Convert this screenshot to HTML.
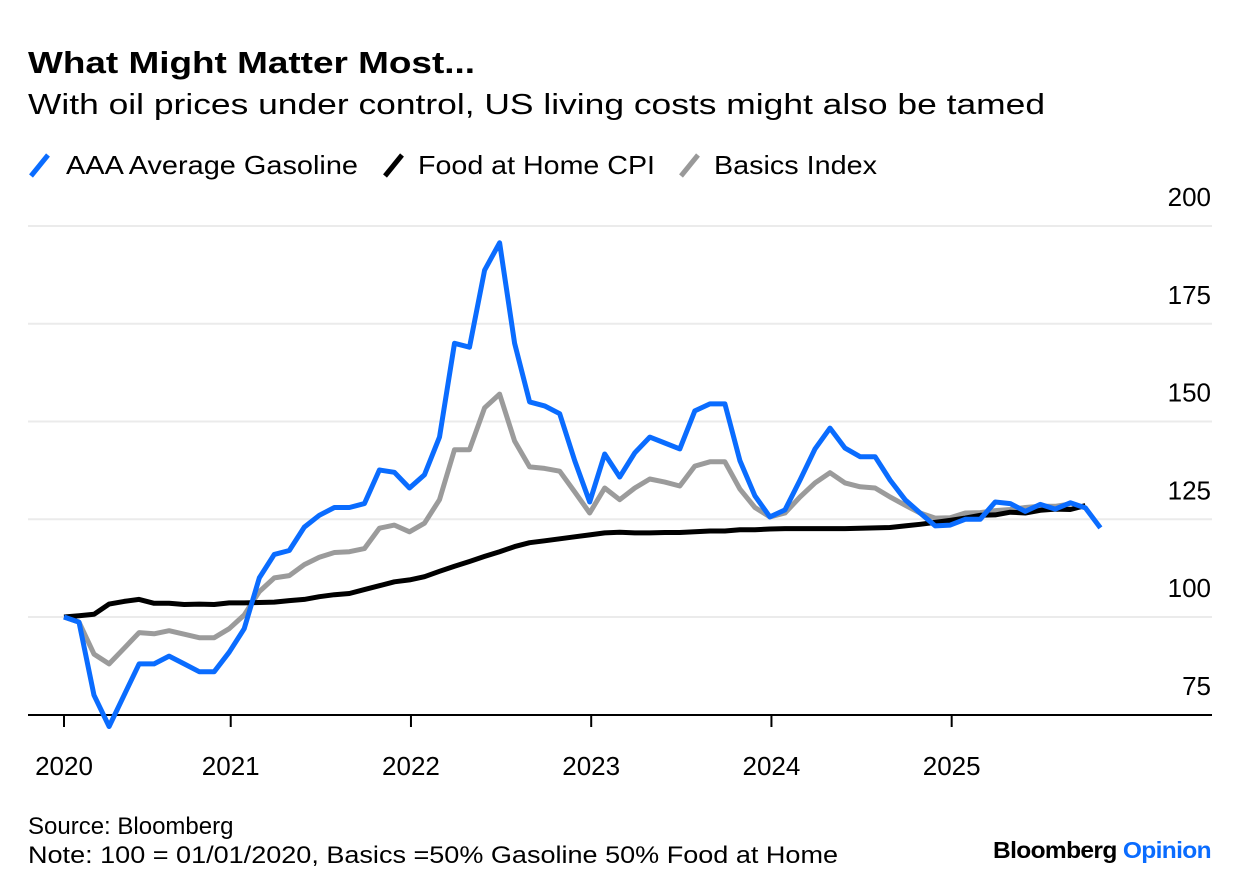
<!DOCTYPE html>
<html><head><meta charset="utf-8"><style>
html,body{margin:0;padding:0;background:#fff;}
svg{display:block;font-family:"Liberation Sans",sans-serif;}
</style></head><body>
<svg id="chart" width="1240" height="894" viewBox="0 0 1240 894">
<text x="28" y="73" font-size="31" font-weight="bold" textLength="447" lengthAdjust="spacingAndGlyphs">What Might Matter Most...</text>
<text x="28" y="114" font-size="29" textLength="1017" lengthAdjust="spacingAndGlyphs">With oil prices under control, US living costs might also be tamed</text>
<g>
<g><line x1="31" y1="176" x2="48" y2="155" stroke="#0a6cff" stroke-width="5"/><text x="66" y="174" font-size="26" textLength="292" lengthAdjust="spacingAndGlyphs">AAA Average Gasoline</text></g>
<g><line x1="385" y1="176" x2="402" y2="155" stroke="#000" stroke-width="5"/><text x="418" y="174" font-size="26" textLength="237" lengthAdjust="spacingAndGlyphs">Food at Home CPI</text></g>
<g><line x1="681" y1="176" x2="698" y2="155" stroke="#999" stroke-width="5"/><text x="714" y="174" font-size="26" textLength="163" lengthAdjust="spacingAndGlyphs">Basics Index</text></g>
</g>
<g id="grid"></g>
<g id="yticks"></g>
<g id="xaxis"></g>
<g id="series"></g>
<text x="28" y="834" font-size="24">Source: Bloomberg</text>
<text x="28" y="863" font-size="24" textLength="810" lengthAdjust="spacingAndGlyphs">Note: 100 = 01/01/2020, Basics =50% Gasoline 50% Food at Home</text>
<text x="993" y="858" font-size="23" font-weight="bold" letter-spacing="-0.6" textLength="218" lengthAdjust="spacingAndGlyphs">Bloomberg <tspan fill="#0a6cff">Opinion</tspan></text>
</svg>
<script>
const yTicks = [75, 100, 125, 150, 175, 200];
const xTickLabels = ["2020", "2021", "2022", "2023", "2024", "2025"];
const xTickMonths = [0, 11.1, 23.1, 35.1, 47.1, 59.1];
const gasoline = [100,98.7,80,72,80,88,88,90,88,86,86,91,97,110,116,117,123,126,128,128,129,137.6,137,133,136.4,146,170,169,188.7,195.7,170,155,154,152,140,129.4,141.7,135.8,142,146,144.5,143,152.7,154.5,154.5,140,131,125.6,127.4,135,143,148.3,143.2,141,141,135,130,126.6,123.3,123.5,125,125,129.4,129,127,128.8,127.6,129.2,127.9,122.8];
const food = [100,100.3,100.7,103.3,104,104.5,103.5,103.5,103.2,103.3,103.2,103.6,103.6,103.7,103.8,104.2,104.5,105.2,105.7,106,107,108,109,109.5,110.3,111.7,113,114.2,115.5,116.7,118,119,119.5,120,120.5,121,121.5,121.7,121.5,121.5,121.6,121.6,121.8,122,122,122.3,122.3,122.5,122.6,122.6,122.6,122.6,122.6,122.7,122.8,122.9,123.3,123.7,124.2,124.7,125.3,126,126.1,126.8,126.6,127.3,127.6,127.5,128.5];
const basics = [100,98.7,90.5,88,92,96,95.7,96.5,95.6,94.7,94.7,97,100.5,106.5,110,110.6,113.4,115.3,116.5,116.7,117.5,122.7,123.5,121.8,124,130,142.8,142.8,153.5,157,145,138.4,138,137.3,132,126.6,133,130,133,135.3,134.5,133.5,138.6,139.7,139.7,132.7,128,125.6,126.6,130.7,134.3,136.9,134.3,133.3,133,130.7,128.6,126.6,125.3,125.4,126.6,126.7,127.2,127.5,128,128.3,128.3,128.9];

const NS = "http://www.w3.org/2000/svg";
const X0 = 64, MONTH = 15.02, Y100 = 617, PX = 3.91;
function xs(i){ return X0 + i * MONTH; }
function ys(v){ return Y100 - (v - 100) * PX; }
function mk(tag, attrs, parent){ const e = document.createElementNS(NS, tag); for (const k in attrs) e.setAttribute(k, attrs[k]); parent.appendChild(e); return e; }

const grid = document.getElementById('grid');
const yg = document.getElementById('yticks');
yTicks.forEach(function(v){
  if (v !== 75) {
    const l = mk('line', {x1: 28, x2: 1212, y1: ys(v), y2: ys(v), stroke: '#ebebeb', 'stroke-width': 2}, grid);
    
    
  }
  const t = mk('text', {x: 1211, y: ys(v) - 20, 'font-size': 26, 'text-anchor': 'end'}, yg);
  t.textContent = v;
  
  
});

const xa = document.getElementById('xaxis');
const axisLine = mk('line', {x1: 28, x2: 1212, y1: 715, y2: 715, stroke: '#000', 'stroke-width': 2}, xa);


xTickLabels.forEach(function(lab, k){
  const x = xs(xTickMonths[k]);
  const tk = mk('line', {x1: x, x2: x, y1: 715, y2: 727, stroke: '#000', 'stroke-width': 2}, xa);
  
  
  const t = mk('text', {x: x, y: 775, 'font-size': 26, 'text-anchor': 'middle'}, xa);
  t.textContent = lab;
  
  
});

const sg = document.getElementById('series');
function drawLine(arr, color, name){
  const d = arr.map(function(v, i){ return (i ? 'L' : 'M') + xs(i).toFixed(1) + ' ' + ys(v).toFixed(1); }).join(' ');
  const p = mk('path', {d: d, fill: 'none', stroke: color, 'stroke-width': 5, 'stroke-linejoin': 'round', 'stroke-linecap': 'butt'}, sg);
  
  
}
drawLine(basics, '#9b9b9b', 'basics-index-line');
drawLine(food, '#000000', 'food-at-home-cpi-line');
drawLine(gasoline, '#0a6cff', 'aaa-gasoline-line');
</script>
</body></html>
